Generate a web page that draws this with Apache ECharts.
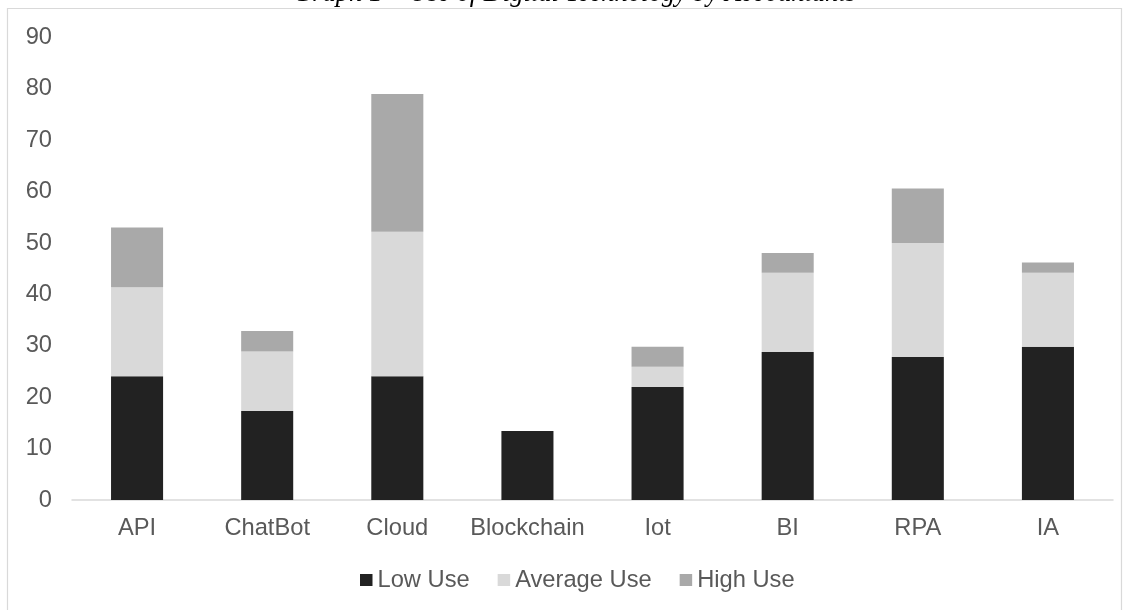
<!DOCTYPE html>
<html>
<head>
<meta charset="utf-8">
<script src="https://cdn.jsdelivr.net/npm/echarts@6/dist/echarts.min.js"></script>
<style>
html,body{margin:0;padding:0;background:#fff;}
#chart{width:1129px;height:610px;}
</style>
</head>
<body>
<div id="chart"></div>
<script>
const categories = ['API', 'ChatBot', 'Cloud', 'Blockchain', 'Iot', 'BI', 'RPA', 'IA'];
const lowUse = [24.1, 17.3, 24.1, 13.4, 22.0, 28.8, 27.8, 29.8];
const averageUse = [17.3, 11.6, 28.1, 0, 3.9, 15.4, 22.2, 14.4];
const highUse = [11.6, 4.0, 26.8, 0, 3.9, 3.85, 10.6, 2.0];
const seriesNames = ['Low Use', 'Average Use', 'High Use'];
const titleText = 'Graph 1 \u2013 Use of Digital Technology by Accountants';

const chart = echarts.init(document.getElementById('chart'), null, {renderer: 'canvas'});
const FONT = 'Liberation Sans, Arial, sans-serif';
const FS = 23.7;
const colors = ['#222222', '#d9d9d9', '#a9a9a9'];

function bar(name, data, color) {
  return {
    name: name,
    type: 'bar',
    stack: 'total',
    barWidth: '40%',
    data: data,
    itemStyle: {color: color},
    emphasis: {disabled: true}
  };
}

chart.setOption({
  animation: false,
  backgroundColor: '#ffffff',
  graphic: [
    {
      type: 'rect',
      silent: true,
      shape: {x: 7.5, y: 8.5, width: 1114, height: 640},
      style: {fill: 'none', stroke: '#d9d9d9', lineWidth: 1.2},
      z: -10
    },
    {
      type: 'text',
      silent: true,
      x: 574.5,
      y: -6,
      style: {
        text: titleText,
        font: 'italic 26.5px "Liberation Serif", "Times New Roman", serif',
        fill: '#000000',
        align: 'center',
        verticalAlign: 'middle'
      },
      z: 10
    }
  ],
  legend: {
    data: seriesNames,
    left: 360,
    top: 568,
    padding: 0,
    itemWidth: 12.5,
    itemHeight: 12,
    itemGap: 28,
    icon: 'rect',
    textStyle: {fontFamily: FONT, fontSize: FS, color: '#595959'}
  },
  grid: {left: 72, right: 16, top: 37.4, bottom: 110, containLabel: false},
  xAxis: {
    type: 'category',
    data: categories,
    axisLine: {show: true, lineStyle: {color: '#d9d9d9', width: 1.5}},
    axisTick: {show: false},
    axisLabel: {fontFamily: FONT, fontSize: FS, color: '#595959', margin: 16, interval: 0}
  },
  yAxis: {
    type: 'value',
    min: 0,
    max: 90,
    interval: 10,
    axisLine: {show: false},
    axisTick: {show: false},
    splitLine: {show: false},
    axisLabel: {fontFamily: FONT, fontSize: FS, color: '#595959', margin: 20}
  },
  series: [
    bar(seriesNames[0], lowUse, colors[0]),
    bar(seriesNames[1], averageUse, colors[1]),
    bar(seriesNames[2], highUse, colors[2])
  ]
});
</script>
</body>
</html>
